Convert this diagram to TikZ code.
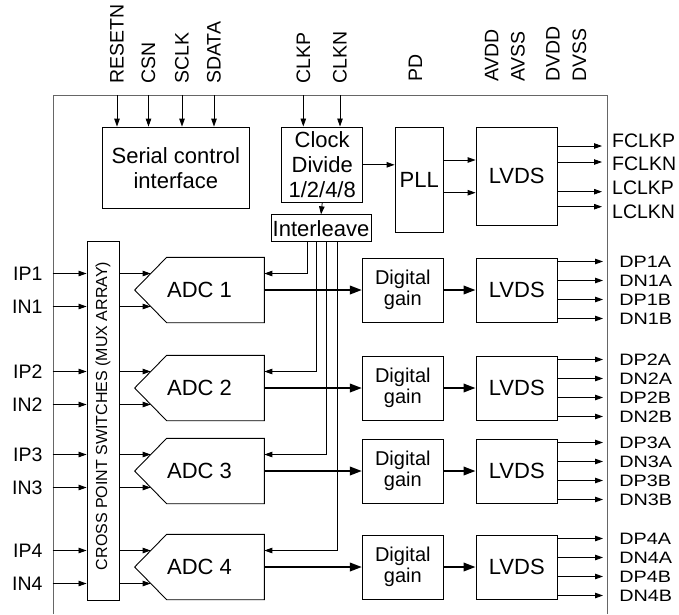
\documentclass[tikz,border=0pt]{standalone}
\usepackage{fontspec}
\setmainfont{Liberation Sans}
\usetikzlibrary{arrows.meta,calc}
\newcommand{\blkfont}{\fontsize{22}{25}\selectfont}
\newcommand{\gainfont}{\fontsize{20}{21}\selectfont}
\newcommand{\pinfont}{\fontsize{19.5}{20}\selectfont}
\newcommand{\outfont}{\fontsize{16.5}{17}\selectfont}
\newcommand{\barfont}{\fontsize{16}{17}\selectfont}

\begin{document}
\begin{tikzpicture}[x=1pt,y=-1pt,
    blk/.style={
        draw,
        line width=0.9pt,
        inner sep=0pt,
        align=center,
        font=\blkfont
    },
    blkLine/.style={
        line width=0.9pt,
        line join=miter
    },
    adcShape/.style={
        inner sep=0pt,
        minimum width=129.3,
        minimum height=65,
        font=\blkfont
    },
    pinLbl/.style={
        inner sep=0pt,
        font=\pinfont
    },
    outLbl/.style={
        inner sep=0pt,
        font=\outfont,
        xscale=1.2
    },
    sig/.style={
        -{Triangle[length=8pt,width=5.5pt]},
        line width=0.8pt
    },
    sigBold/.style={
        -{Triangle[length=12pt,width=8.5pt]},
        line width=2pt
    }
]
\useasboundingbox (0,0) rectangle (679,614);

% chip outline (open at the bottom)
\coordinate (fbl) at (53,614);
\coordinate (ftl) at (53,95);
\coordinate (ftr) at (607,95);
\coordinate (fbr) at (607,614);
\draw[black!60, line width=0.9pt] (fbl) -- (ftl) -- (ftr) -- (fbr);

% control and clock blocks
\node[blk, minimum width=147, minimum height=81.3] (scif) at (175.8,167.7) {Serial control\\interface};
\node[blk, minimum width=81, minimum height=75.7] (clkdiv) at (322.2,164.8) {Clock\\Divide\\1/2/4/8};
\node[blk, minimum width=48.3, minimum height=105.3] (pll) at (419.2,179.7) {PLL};
\node[blk, minimum width=81.3, minimum height=98.7] (lvdsc) at (516.7,176.3) {LVDS};
\node[blk, minimum width=100, minimum height=27] (ileave) at (321,228.3) {Interleave};

% top pins
\node[pinLbl, rotate=90, anchor=west] (resetn) at (117,84) {RESETN};
\node[pinLbl, rotate=90, anchor=west] (csn) at (148.5,84) {CSN};
\node[pinLbl, rotate=90, anchor=west] (sclk) at (182,84) {SCLK};
\node[pinLbl, rotate=90, anchor=west] (sdata) at (214,84) {SDATA};
\node[pinLbl, rotate=90, anchor=west] (clkp) at (303.3,84) {CLKP};
\node[pinLbl, rotate=90, anchor=west] (clkn) at (340,84) {CLKN};
\node[pinLbl, rotate=90, anchor=west] (pd) at (415.3,82) {PD};
\node[pinLbl, rotate=90, anchor=west] (avdd) at (491.7,82) {AVDD};
\node[pinLbl, rotate=90, anchor=west] (avss) at (518,82) {AVSS};
\node[pinLbl, rotate=90, anchor=west] (dvdd) at (553,82) {DVDD};
\node[pinLbl, rotate=90, anchor=west] (dvss) at (579.5,82) {DVSS};

\draw[sig] (resetn |- ftl) -- (resetn |- scif.north);
\draw[sig] (csn |- ftl) -- (csn |- scif.north);
\draw[sig] (sclk |- ftl) -- (sclk |- scif.north);
\draw[sig] (sdata |- ftl) -- (sdata |- scif.north);
\draw[sig] (clkp |- ftl) -- (clkp |- clkdiv.north);
\draw[sig] (clkn |- ftl) -- (clkn |- clkdiv.north);

% clock path
\draw[sig] (clkdiv.east) -- (clkdiv.east -| pll.west);
\draw[sig] (clkdiv.south) -- (ileave.north);
\draw[sig] ([yshift=19.7pt]pll.east) -- ([yshift=19.7pt]pll.east -| lvdsc.west);
\draw[sig] ([yshift=-13pt]pll.east) -- ([yshift=-13pt]pll.east -| lvdsc.west);

\coordinate (ckend) at (602,176.3);
\draw[sig] ([yshift=30.3pt]lvdsc.east) -- ([yshift=30.3pt]ckend);
\draw[sig] ([yshift=14.3pt]lvdsc.east) -- ([yshift=14.3pt]ckend);
\draw[sig] ([yshift=-15.4pt]lvdsc.east) -- ([yshift=-15.4pt]ckend);
\draw[sig] ([yshift=-30.4pt]lvdsc.east) -- ([yshift=-30.4pt]ckend);

\node[pinLbl, anchor=west] (fclkp) at (612,140.8) {FCLKP};
\node[pinLbl, anchor=west] (fclkn) at (612,164.2) {FCLKN};
\node[pinLbl, anchor=west] (lclkp) at (612,187.5) {LCLKP};
\node[pinLbl, anchor=west] (lclkn) at (612,211.3) {LCLKN};

% cross point switch bar
\node[blk, minimum width=32, minimum height=359] (xbar) at (103,420.5) {};
\node[font=\barfont, rotate=90, inner sep=0pt] (xlbl) at (103,416) {CROSS POINT SWITCHES (MUX ARRAY)};

% converter channels
\foreach \row/\ry/\dx in {1/290/-14, 2/388/-5, 3/471/5, 4/567/16}{
    \node[pinLbl, anchor=east] (ip\row) at (42.7,\ry-16.5) {IP\row};
    \node[pinLbl, anchor=east] (in\row) at (42.7,\ry+16.5) {IN\row};

    \node[adcShape] (adc\row) at (199.5,\ry) {ADC \row};
    \draw[blkLine] (adc\row.north east) -- (adc\row.south east)
        -- ($(adc\row.south west)+(32,0)$) -- (adc\row.west)
        -- ($(adc\row.north west)+(32,0)$) -- cycle;

    \node[blk, font=\gainfont, minimum width=81, minimum height=64] (gain\row) at (402.8,\ry) {Digital\\gain};
    \node[blk, minimum width=81.7, minimum height=64] (lvds\row) at (516.8,\ry) {LVDS};

    \draw[sig] ([xshift=10pt]ip\row.east) -- (ip\row.east -| xbar.west);
    \draw[sig] ([xshift=10pt]in\row.east) -- (in\row.east -| xbar.west);
    \draw[sig] (ip\row.east -| xbar.east) -- ($(adc\row.west)+(16,-16.5)$);
    \draw[sig] (in\row.east -| xbar.east) -- ($(adc\row.west)+(16,16.5)$);

    \draw[sig] ($(ileave.south)+(\dx,0)$) |- ($(adc\row.east)+(0,-16.5)$);

    \draw[sigBold] (adc\row.east) -- (gain\row.west);
    \draw[sigBold] (gain\row.east) -- (lvds\row.west);

    \foreach \oy/\nm/\id in {-28.5/DP\row A/a, -9.5/DN\row A/b, 9.5/DP\row B/c, 28.5/DN\row B/d}{
        \node[outLbl, anchor=west] (o\row\id) at (619,\ry+\oy) {\nm};
        \draw[sig] ($(lvds\row.east)+(0,\oy)$) -- ($(o\row\id.west)+(-16,0)$);
    }
}
\end{tikzpicture}
\end{document}
